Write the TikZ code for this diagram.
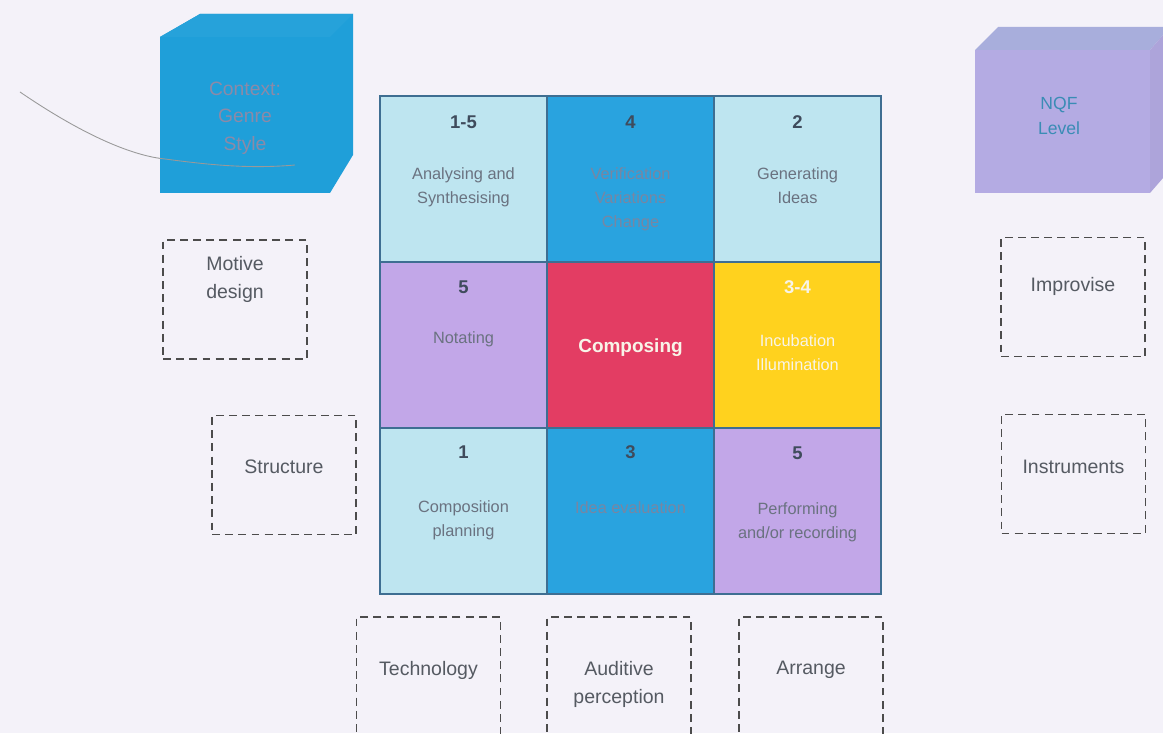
\documentclass[tikz,border=0pt]{standalone}
\usepackage{fontspec}
\setmainfont{Liberation Sans}
\usetikzlibrary{positioning}

\definecolor{paper}{HTML}{F4F2F9}
\definecolor{paleteal}{HTML}{BEE5F0}
\definecolor{skyblue}{HTML}{29A3DF}
\definecolor{lilac}{HTML}{C2A7E8}
\definecolor{crimson}{HTML}{E33D63}
\definecolor{sun}{HTML}{FFD21E}
\definecolor{gridline}{HTML}{3E6E92}
\definecolor{numgrey}{HTML}{3F4B5C}
\definecolor{lblgrey}{HTML}{6A7280}
\definecolor{bluegrey}{HTML}{7886A2}
\definecolor{paletext}{HTML}{F8F4E8}
\definecolor{dashgrey}{HTML}{4C4C4C}
\definecolor{taggrey}{HTML}{555A62}
\definecolor{cubeblue}{HTML}{1F9FD9}
\definecolor{cubelilac}{HTML}{B4ABE3}
\definecolor{cubetop}{HTML}{A8AEDC}
\definecolor{cubegrey}{HTML}{8B8AA8}
\definecolor{nqfteal}{HTML}{3A8CB5}

\tikzset{
  cell/.style={draw=gridline, line width=0.7pt, minimum width=3.34cm,
    minimum height=3.32cm, inner sep=0pt},
  num/.style={font=\bfseries\fontsize{10.5}{12}\selectfont, text=numgrey,
    inner sep=0pt},
  lbl/.style={anchor=north, align=center, font=\fontsize{9.3}{13.7}\selectfont,
    text=lblgrey, inner sep=0pt},
  dashbox/.style={draw=dashgrey, line width=0.8pt, dash pattern=on 4.5pt off 3pt,
    minimum width=2.88cm, minimum height=2.38cm, inner sep=0pt},
  tag/.style={align=center, font=\fontsize{11.1}{15.9}\selectfont,
    text=taggrey, inner sep=0pt},
  cubetext/.style={align=center, inner sep=0pt},
}

\begin{document}
\begin{tikzpicture}
  \useasboundingbox (0,0) rectangle (23.26,14.66);
  \clip (0,0) rectangle (23.26,14.66);
  \fill[paper] (0,0) rectangle (23.26,14.66);

  % blue cube, top left
  \fill[cubeblue] (3.20,13.92) -- (4.00,14.38) -- (7.06,14.38) -- (7.06,11.56)
    -- (6.60,10.80) -- (3.20,10.80) -- cycle;
  \fill[cubeblue!97!white] (3.20,13.92) -- (4.00,14.38) -- (7.06,14.38) -- (6.60,13.92) -- cycle;
  \node[cubetext, text=cubegrey, font=\fontsize{11}{15.6}\selectfont] (context)
    at (4.90,12.30) {Context:\\Genre\\Style};
  \draw[gray!80, line width=0.5pt] (0.40,12.82) .. controls (1.60,12.00) and (2.60,11.55) .. (3.30,11.48)
    .. controls (4.20,11.36) and (5.00,11.28) .. (5.90,11.36);

  % lilac cube, top right
  \fill[cubelilac] (19.50,13.66) rectangle (23.00,10.80);
  \fill[cubetop] (19.50,13.66) -- (19.96,14.12) -- (23.40,14.12) -- (23.00,13.66) -- cycle;
  \fill[cubelilac!96!black] (23.00,13.66) -- (23.40,14.12) -- (23.40,11.26) -- (23.00,10.80) -- cycle;
  \node[cubetext, text=nqfteal, font=\fontsize{10}{14.2}\selectfont] (nqf)
    at (21.18,12.35) {NQF\\Level};

  % the grid
  \node[cell, fill=paleteal] (analyse)  at (9.27,11.08) {};
  \node[cell, fill=skyblue]  (verify)   at (12.61,11.08) {};
  \node[cell, fill=paleteal] (generate) at (15.95,11.08) {};
  \node[cell, fill=lilac]    (notate)   at (9.27,7.76) {};
  \node[cell, fill=crimson]  (compose)  at (12.61,7.76) {};
  \node[cell, fill=sun]      (incubate) at (15.95,7.76) {};
  \node[cell, fill=paleteal] (plan)     at (9.27,4.44) {};
  \node[cell, fill=skyblue]  (evaluate) at (12.61,4.44) {};
  \node[cell, fill=lilac]    (perform)  at (15.95,4.44) {};

  % stage numbers
  \node[num] (n-analyse)  at (9.27,12.22) {1-5};
  \node[num] (n-verify)   at (12.61,12.22) {4};
  \node[num] (n-generate) at (15.95,12.22) {2};
  \node[num] (n-notate)   at (9.27,8.92) {5};
  \node[num, text=paletext] (n-incubate) at (15.95,8.92) {3-4};
  \node[num] (n-plan)     at (9.27,5.62) {1};
  \node[num] (n-evaluate) at (12.61,5.62) {3};
  \node[num] (n-perform)  at (15.95,5.60) {5};

  % stage labels
  \node[lbl] (l-analyse)  at (9.27,11.32) {Analysing and\\Synthesising};
  \node[lbl, text=bluegrey] (l-verify) at (12.61,11.32) {Verification\\Variations\\Change};
  \node[lbl] (l-generate) at (15.95,11.32) {Generating\\Ideas};
  \node[lbl] (l-notate)   at (9.27,8.04) {Notating};
  \node[font=\bfseries\fontsize{10.8}{13}\selectfont, text=paletext, inner sep=0pt]
    (l-compose) at (12.61,7.70) {Composing};
  \node[lbl, text=paletext] (l-incubate) at (15.95,7.98) {Incubation\\Illumination};
  \node[lbl] (l-plan)     at (9.27,4.66) {Composition\\planning};
  \node[lbl, text=bluegrey] (l-evaluate) at (12.61,4.64) {Idea evaluation};
  \node[lbl] (l-perform)  at (15.95,4.62) {Performing\\and/or recording};

  % dashed side boxes
  \node[dashbox] (motive)      at (4.70,8.67) {};
  \node[dashbox] (structure)   at (5.68,5.16) {};
  \node[dashbox] (improvise)   at (21.46,8.72) {};
  \node[dashbox] (instruments) at (21.47,5.18) {};
  \node[dashbox] (technology)  at (8.57,1.13) {};
  \node[dashbox] (auditive)    at (12.38,1.13) {};
  \node[dashbox] (arrange)     at (16.22,1.13) {};

  \node[tag] (t-motive)      at ([yshift=4.1mm]motive.center) {Motive\\design};
  \node[tag] (t-structure)   at ([yshift=1.6mm]structure.center) {Structure};
  \node[tag] (t-improvise)   at ([yshift=2.2mm]improvise.center) {Improvise};
  \node[tag] (t-instruments) at ([yshift=1.4mm]instruments.center) {Instruments};
  \node[tag] (t-technology)  at ([yshift=1.3mm]technology.center) {Technology};
  \node[tag] (t-auditive)    at ([yshift=-1.5mm]auditive.center) {Auditive\\perception};
  \node[tag] (t-arrange)     at ([yshift=1.3mm]arrange.center) {Arrange};
\end{tikzpicture}
\end{document}
